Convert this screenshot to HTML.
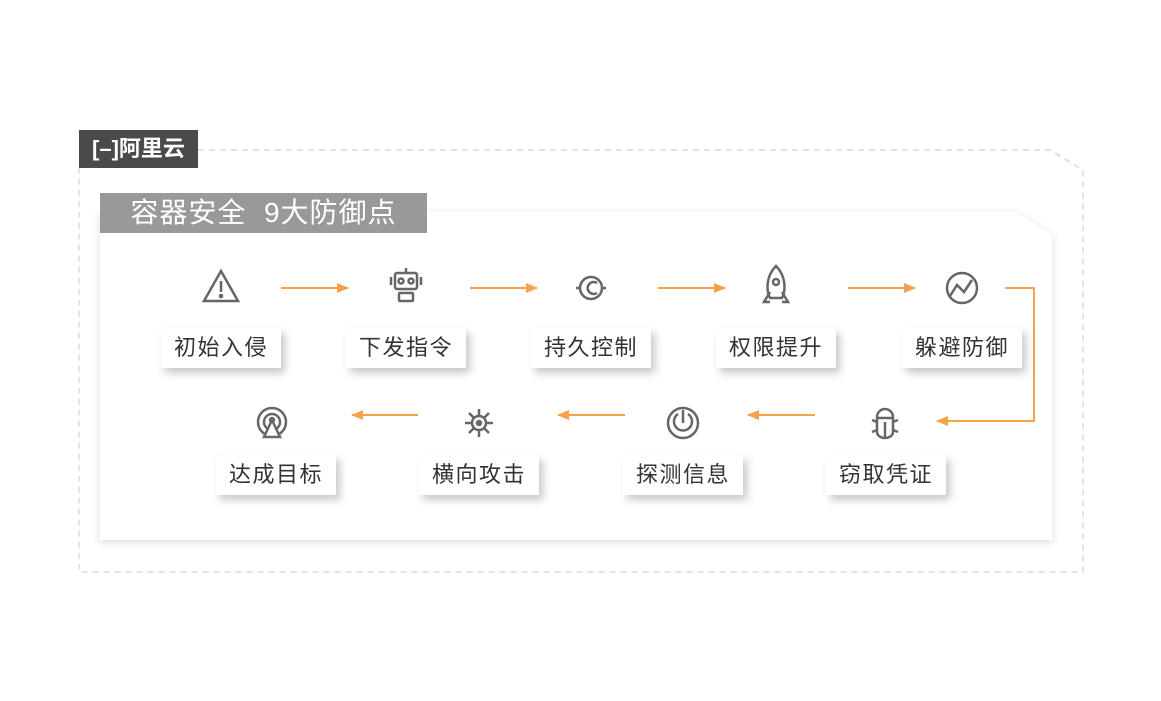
<!DOCTYPE html>
<html><head><meta charset="utf-8"><style>
body{margin:0;width:1161px;height:701px;background:#fff;position:relative;overflow:hidden;font-family:"Liberation Sans","Noto Sans CJK SC",sans-serif}
.abs{position:absolute}
.lbl{position:absolute;width:120px;height:40px;background:#fff;box-shadow:4px 5px 8px rgba(0,0,0,0.22);font-size:22px;color:#333;text-align:center;line-height:40px;letter-spacing:1.5px}
</style></head><body>
<svg class="abs" style="left:0;top:0" width="1161" height="701">
<defs>
<filter id="sh" x="-5%" y="-5%" width="110%" height="115%"><feDropShadow dx="0" dy="2" stdDeviation="4" flood-color="#000" flood-opacity="0.15"/></filter>
<marker id="ar" markerWidth="12" markerHeight="10" refX="11" refY="5" orient="auto" markerUnits="userSpaceOnUse"><path d="M0,0 L12,5 L0,10 z" fill="#f7a24a"/></marker>
</defs>
<path d="M198,150 H1050 L1083,170 V572 H79 V168" fill="none" stroke="#c8c8c8" stroke-dasharray="6,5"/>
<path d="M100,212 H1016 L1052,235 V540 H100 Z" fill="#fff" filter="url(#sh)"/>
<g stroke="#f7a24a" stroke-width="2" fill="none" marker-end="url(#ar)">
<line x1="281" y1="288" x2="348" y2="288"/>
<line x1="470" y1="288" x2="537" y2="288"/>
<line x1="658" y1="288" x2="725" y2="288"/>
<line x1="848" y1="288" x2="915" y2="288"/>
<polyline points="1005,288 1034,288 1034,421 937,421"/>
<line x1="418" y1="415" x2="352" y2="415"/>
<line x1="625" y1="415" x2="558" y2="415"/>
<line x1="815" y1="415" x2="748" y2="415"/>
</g>
<g stroke="#666" stroke-width="2.5" fill="none">
<path d="M221,271 L238,301 H204 Z"/><line x1="221" y1="281" x2="221" y2="292"/><circle cx="221" cy="296" r="1" fill="#666"/>
<rect x="395" y="273" width="22" height="16" rx="2"/><circle cx="401" cy="281" r="2.5"/><circle cx="411" cy="281" r="2.5"/><line x1="391" y1="277" x2="391" y2="285"/><line x1="421" y1="277" x2="421" y2="285"/><rect x="399" y="293" width="14" height="8" rx="1"/><line x1="406" y1="268" x2="406" y2="273"/>
<circle cx="591" cy="288" r="11"/><path d="M597,283 a6,6 0 1 0 0,10"/><path d="M576,288 H580 M602,288 H606"/>
<path d="M776,266 C786,276 786,290 782,298 H770 C766,290 766,276 776,266 Z"/><circle cx="776" cy="282" r="3"/><path d="M770,292 L764,302 H770 M782,292 L788,302 H782"/>
<circle cx="962" cy="288" r="15"/><path d="M950,296 L957,285 L964,292 L972,280"/>
<path d="M877,417 a8,8 0 0 1 16,0 V432 a8,6 0 0 1 -16,0 Z"/><line x1="877" y1="418" x2="893" y2="418"/><line x1="885" y1="422" x2="885" y2="437"/><path d="M872,420 L877,422 M898,420 L893,422 M872,432 L877,430 M898,432 L893,430"/>
<circle cx="683" cy="423" r="15"/><path d="M678,414 a9,9 0 1 0 10,0"/><line x1="683" y1="410" x2="683" y2="423"/>
<circle cx="479" cy="423" r="7"/><circle cx="479" cy="423" r="2" fill="#666"/><path d="M479,416 V409 M479,430 V437 M472,423 H465 M486,423 H493 M474,418 L469,413 M484,418 L489,413 M474,428 L469,433 M484,428 L489,433"/>
<circle cx="272" cy="422" r="14"/><circle cx="272" cy="422" r="8"/><path d="M272,420 L264,437 H280 Z" fill="#fff"/><circle cx="272" cy="420" r="2" fill="#666"/>
</g>
</svg>
<div class="abs" style="left:79px;top:130px;width:119px;height:38px;background:#4a4a4a;color:#fff;font-size:22px;font-weight:bold;line-height:38px;text-align:center">[–]阿里云</div>
<div class="abs" style="left:100px;top:193px;width:327px;height:40px;background:#999;color:#fff;font-size:28px;line-height:40px;text-align:center;letter-spacing:1px">容器安全&nbsp; 9大防御点</div>
<div class="lbl" style="left:161px;top:328px">初始入侵</div>
<div class="lbl" style="left:346px;top:328px">下发指令</div>
<div class="lbl" style="left:531px;top:328px">持久控制</div>
<div class="lbl" style="left:716px;top:328px">权限提升</div>
<div class="lbl" style="left:902px;top:328px">躲避防御</div>
<div class="lbl" style="left:216px;top:455px">达成目标</div>
<div class="lbl" style="left:419px;top:455px">横向攻击</div>
<div class="lbl" style="left:623px;top:455px">探测信息</div>
<div class="lbl" style="left:826px;top:455px">窃取凭证</div>
</body></html>
